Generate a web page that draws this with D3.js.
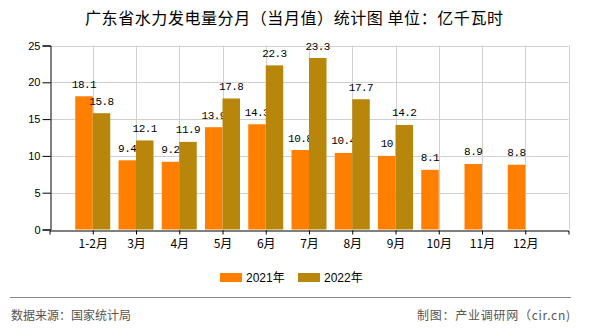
<!DOCTYPE html>
<html><head><meta charset="utf-8">
<script src="https://cdn.jsdelivr.net/npm/d3@7/dist/d3.min.js"></script>
<style>
html,body{margin:0;padding:0;background:#fff;}
svg{display:block;}
</style></head>
<body><svg id="c" width="590" height="330"></svg>
<script>
const categories = ["1-2月","3月","4月","5月","6月","7月","8月","9月","10月","11月","12月"];
const values2021 = [18.1, 9.4, 9.2, 13.9, 14.3, 10.8, 10.4, 10, 8.1, 8.9, 8.8];
const values2022 = [15.8, 12.1, 11.9, 17.8, 22.3, 23.3, 17.7, 14.2, null, null, null];
const yTicks = [0, 5, 10, 15, 20, 25];
const seriesNames = ["2021年", "2022年"];
const colors = ["#FF8000", "#B8860B"];
const title = "广东省水力发电量分月（当月值）统计图 单位：亿千瓦时";
const sourceText = "数据来源：国家统计局";
const makerText = "制图：产业调研网（cir.cn)";

const svg = d3.select("#c");
svg.append("rect").attr("width",590).attr("height",330).attr("fill","#fff");

const pLeft = 49.5, pRight = 568.5, pTop = 45.5, pBottom = 229.5;
const x = d3.scalePoint().domain(categories).range([pLeft, pRight]).padding(1);
const y = d3.scaleLinear().domain([0, 25]).range([pBottom, pTop]);
const bw = 17.5;
const cjk = "'Noto Sans CJK SC', sans-serif";

// title
svg.append("text").attr("x", 85).attr("y", 24)
  .attr("textLength", 418).attr("lengthAdjust", "spacing")
  .attr("font-family", cjk).attr("font-size", 16).attr("fill","#000").text(title);

// horizontal gridlines
svg.append("g").selectAll("line").data(yTicks.filter(d=>d>0)).join("line")
  .attr("x1", pLeft).attr("x2", pRight)
  .attr("y1", d=>Math.round(y(d))+0.5).attr("y2", d=>Math.round(y(d))+0.5)
  .attr("stroke","#d0d0d0").attr("stroke-width",1);
// vertical gridlines
const vPos = categories.map(c=>x(c)).concat([pRight]);
svg.append("g").selectAll("line").data(vPos).join("line")
  .attr("x1", d=>Math.round(d)+0.5).attr("x2", d=>Math.round(d)+0.5)
  .attr("y1", pTop).attr("y2", pBottom)
  .attr("stroke","#d0d0d0").attr("stroke-width",1);

// bars
const gBars = svg.append("g");
categories.forEach((c,i)=>{
  const cx = x(c);
  [values2021[i], values2022[i]].forEach((v,s)=>{
    if (v == null) return;
    const x0 = s===0 ? cx - bw : cx;
    gBars.append("rect").attr("x", x0).attr("width", bw)
      .attr("y", y(v)).attr("height", y(0)-y(v)).attr("fill", colors[s]);
    gBars.append("text").attr("x", x0 + bw/2).attr("y", y(v) - 8.5)
      .attr("text-anchor","middle").attr("font-family","'Liberation Mono', monospace")
      .attr("font-size", 11).attr("letter-spacing", -0.5).attr("fill","#000").text(v);
  });
});

// y axis
const yAxis = d3.axisLeft(y).tickValues(yTicks).tickSize(8).tickPadding(2).tickFormat(d3.format("d"));
const gy = svg.append("g").attr("transform", `translate(${Math.round(pLeft)+0.5},0)`).call(yAxis);
gy.select(".domain").attr("stroke","#000");
gy.selectAll(".tick line").attr("stroke","#000");
gy.selectAll(".tick text").attr("font-family","'Liberation Sans', Arial, sans-serif").attr("font-size",11).attr("fill","#000");

// x axis
const xAxis = d3.axisBottom(x).tickSize(4).tickPadding(5).tickSizeOuter(4);
const gx = svg.append("g").attr("transform", `translate(0,${Math.round(pBottom)+0.5})`).call(xAxis);
gx.select(".domain").attr("stroke","#000");
gx.selectAll(".tick line").attr("stroke","#000");
gx.selectAll(".tick text").attr("font-family", cjk).attr("font-size",12).attr("fill","#000");

// legend
const legX = [220, 298];
seriesNames.forEach((n,i)=>{
  svg.append("rect").attr("x", legX[i]).attr("y", 273).attr("width", 22).attr("height", 9).attr("fill", colors[i]);
  svg.append("text").attr("x", legX[i]+26).attr("y", 282).attr("font-family","'Liberation Sans', Arial, "+cjk)
    .attr("font-size", 12).attr("fill","#000").text(n);
});

// footer
svg.append("line").attr("x1",10).attr("x2",571).attr("y1",297.5).attr("y2",297.5).attr("stroke","#888").attr("stroke-width",1);
svg.append("text").attr("x", 11).attr("y", 320).attr("font-family", cjk).attr("font-size",12).attr("fill","#555").text(sourceText);
svg.append("text").attr("x", 417).attr("y", 320)
  .attr("textLength", 153).attr("lengthAdjust", "spacing")
  .attr("font-family", cjk).attr("font-size",12).attr("fill","#555").text(makerText);
</script></body></html>
